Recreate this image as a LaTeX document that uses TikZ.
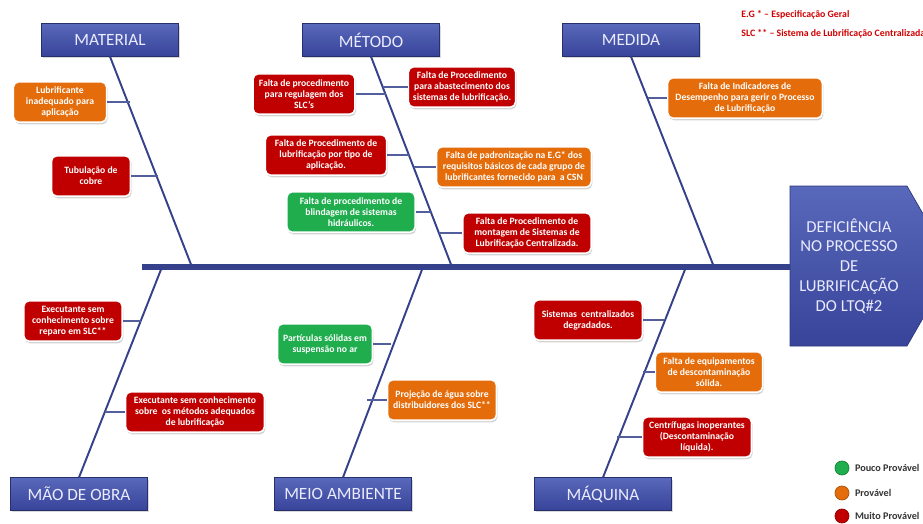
\documentclass[tikz,border=0pt]{standalone}
\usepackage{fontspec}
\setmainfont{Carlito}
\usetikzlibrary{positioning,calc,shadows}

\definecolor{corMuito}{HTML}{C00000}
\definecolor{corProvavel}{HTML}{E46C0A}
\definecolor{corPouco}{HTML}{1FAD4E}
\definecolor{corEspinha}{HTML}{35418A}
\definecolor{cabTopo}{HTML}{5868BA}
\definecolor{cabBase}{HTML}{38449A}
\definecolor{corNota}{HTML}{D00000}

\tikzset{
  categoria/.style={draw=cabBase!70!black, top color=cabTopo, bottom color=cabBase,
    text=white!92!blue, font=\fontsize{9.8}{11}\selectfont,
    minimum width=78pt, minimum height=18.5pt,
    drop shadow={opacity=0.3,shadow xshift=0.6pt,shadow yshift=-1.2pt}},
  causa/.style={draw=white, line width=0.9pt, rounded corners=3pt, text=white,
    align=center, font=\fontsize{5.5}{6.2}\selectfont\bfseries,
    minimum height=23pt, inner sep=1pt,
    drop shadow={opacity=0.35,shadow xshift=0.6pt,shadow yshift=-1.2pt}},
  muito/.style={causa, fill=corMuito},
  provavel/.style={causa, fill=corProvavel},
  pouco/.style={causa, fill=corPouco},
  osso/.style={draw=corEspinha, line width=1.1pt},
  ramo/.style={draw=corEspinha!85, line width=0.7pt},
  nota/.style={text=corNota, font=\fontsize{5.6}{6.5}\selectfont\bfseries, inner sep=0pt}
}

\begin{document}
\begin{tikzpicture}[x=0.02cm, y=-0.02cm]
\useasboundingbox (0,0) rectangle (923,524);

% cabeca do peixe
\shade[top color=cabTopo, bottom color=cabBase, draw=cabBase!80!black]
  (790,186) -- (907,186) -- (953,266) -- (907,346) -- (790,346) -- cycle;
\node[text=white!92!blue, align=center, font=\fontsize{9.5}{11.3}\selectfont] (efeito) at (849,266)
  {DEFICIÊNCIA\\NO PROCESSO\\DE\\LUBRIFICAÇÃO\\DO LTQ\#2};

% espinha
\coordinate (cauda) at (142,267);
\coordinate (pescoco) at (790,267);
\foreach \n/\x in {s1/192, s2/452, s3/714, s4/162, s5/423, s6/686}
  \coordinate (\n) at (\x,267);
\draw[draw=corEspinha, line width=3pt] (cauda) -- (pescoco);

% categorias
\node[categoria] (material) at (110,40) {MATERIAL};
\node[categoria] (metodo) at (371,40) {MÉTODO};
\node[categoria] (medida) at (631,40) {MEDIDA};
\node[categoria] (maoobra) at (79,494) {MÃO DE OBRA};
\node[categoria] (meioamb) at (343,494) {MEIO AMBIENTE};
\node[categoria] (maquina) at (603,494) {MÁQUINA};

\draw[osso] (material.south) -- (s1);
\draw[osso] (metodo.south) -- (s2);
\draw[osso] (medida.south) -- (s3);
\draw[osso] (maoobra.north) -- (s4);
\draw[osso] (meioamb.north) -- (s5);
\draw[osso] (maquina.north) -- (s6);

% pontos nos ossos
\foreach \n/\x/\y in {b1/130/102, b2/158/176,
    b3/386/94, b4/383/87, b5/409/155, b6/414/167, b7/431/212, b8/439/233,
    b9/648/98,
    b10/141/321, b11/105/412,
    b12/391/344, b13/367/400,
    b14/664/320, b15/643/372, b16/617/437}
  \coordinate (\n) at (\x,\y);

% causas - material
\node[provavel, minimum width=53pt] (lub) at (60,102) {Lubrificante\\inadequado para\\aplicação};
\node[muito, minimum width=45pt] (tub) at (91,176) {Tubulação de\\cobre};

% causas - metodo
\node[muito, minimum width=58pt] (reg) at (304,94) {Falta de procedimento\\para regulagem dos\\SLC's};
\node[muito, minimum width=61pt] (abast) at (462,87) {Falta de Procedimento\\para abastecimento dos\\sistemas de lubrificação.};
\node[muito, minimum width=69pt] (tipo) at (326,155) {Falta de Procedimento de\\lubrificação por tipo de\\aplicação.};
\node[provavel, minimum width=88pt] (padr) at (514,167) {Falta de padronização na E.G* dos\\requisitos básicos de cada grupo de\\lubrificantes fornecido para \ a CSN};
\node[pouco, minimum width=73pt] (blind) at (351,212) {Falta de procedimento de\\blindagem de sistemas\\hidráulicos.};
\node[muito, minimum width=73pt] (mont) at (527,233) {Falta de Procedimento de\\montagem de Sistemas de\\Lubrificação Centralizada.};

% causas - medida
\node[provavel, minimum width=88pt] (indic) at (745,98) {Falta de Indicadores de\\Desempenho para gerir o Processo\\de Lubrificação};

% causas - mao de obra
\node[muito, minimum width=56pt] (exec1) at (73,321) {Executante sem\\conhecimento sobre\\reparo em SLC**};
\node[muito, minimum width=79pt] (exec2) at (195,412) {Executante sem conhecimento\\sobre \ os métodos adequados\\de lubrificação};

% causas - meio ambiente
\node[pouco, minimum width=54pt] (part) at (325,344) {Partículas sólidas em\\suspensão no ar};
\node[provavel, minimum width=62pt] (proj) at (442,400) {Projeção de água sobre\\distribuidores dos SLC**};

% causas - maquina
\node[muito, minimum width=62pt] (sist) at (588,320) {Sistemas \ centralizados\\degradados.};
\node[provavel, minimum width=61pt] (equip) at (709,372) {Falta de equipamentos\\de descontaminação\\sólida.};
\node[muito, minimum width=62pt] (centr) at (697,437) {Centrífugas inoperantes\\(Descontaminação\\líquida).};

% ramos
\draw[ramo] (lub) -- (lub -| b1);
\draw[ramo] (tub) -- (tub -| b2);
\draw[ramo] (reg) -- (reg -| b3);
\draw[ramo] (abast) -- (abast -| b4);
\draw[ramo] (tipo) -- (tipo -| b5);
\draw[ramo] (padr) -- (padr -| b6);
\draw[ramo] (blind) -- (blind -| b7);
\draw[ramo] (mont) -- (mont -| b8);
\draw[ramo] (indic) -- (indic -| b9);
\draw[ramo] (exec1) -- (exec1 -| b10);
\draw[ramo] (exec2) -- (exec2 -| b11);
\draw[ramo] (part) -- (part -| b12);
\draw[ramo] (proj) -- (proj -| b13);
\draw[ramo] (sist) -- (sist -| b14);
\draw[ramo] (equip) -- (equip -| b15);
\draw[ramo] (centr) -- (centr -| b16);

% notas
\node[nota, anchor=west] (notaeg) at (741,15) {E.G * -- Especificação Geral};
\node[nota, anchor=west] (notaslc) at (741,34) {SLC ** -- Sistema de Lubrificação Centralizada};

% legenda
\foreach \i/\cor/\txt/\y in {1/corPouco/Pouco Provável/468, 2/corProvavel/Provável/493, 3/corMuito/Muito Provável/516} {
  \node[circle, fill=\cor, draw=\cor!75!black, minimum size=8pt, inner sep=0pt] (leg\i) at (842,\y) {};
  \node[right=3pt of leg\i, inner sep=0pt, text=black!80, font=\fontsize{5.8}{6.5}\selectfont\bfseries] (legtxt\i) {\txt};
}

\end{tikzpicture}
\end{document}
